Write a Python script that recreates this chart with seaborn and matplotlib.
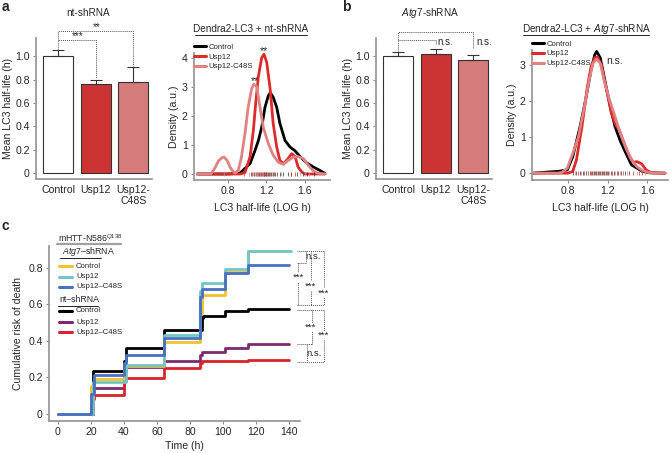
import numpy as np
import pandas as pd
import matplotlib
matplotlib.use('Agg')
import matplotlib.pyplot as plt
from matplotlib.lines import Line2D
import seaborn as sns

# ---------------- data ----------------
groups = ['Control', 'Usp12', 'Usp12-\nC48S']
nt_mean = [1.00, 0.76, 0.78]
nt_err = [0.05, 0.04, 0.125]
atg7_mean = [1.00, 1.02, 0.965]
atg7_err = [0.035, 0.045, 0.045]
bar_colors = ['#FFFFFF', '#CC3333', '#D67B7B']

# density curves (nt-shRNA)
a_ctrl_x = [0.48, 0.80, 0.925, 1.03, 1.08, 1.116, 1.15, 1.185, 1.22, 1.24, 1.27, 1.307,
            1.34, 1.394, 1.446, 1.498, 1.55, 1.62, 1.69, 1.758, 1.81]
a_ctrl_y = [0.0, 0.0, 0.03, 0.36, 0.8, 1.15, 1.6, 2.3, 2.7, 2.8, 2.65, 2.3,
            1.75, 1.15, 0.93, 0.8, 0.6, 0.38, 0.24, 0.12, 0.02]
a_usp_x = [0.48, 0.93, 0.977, 1.03, 1.064, 1.09, 1.116, 1.15, 1.175, 1.203, 1.24, 1.27,
           1.307, 1.34, 1.376, 1.418, 1.463, 1.498, 1.53, 1.568, 1.60, 1.81]
a_usp_y = [0.0, 0.0, 0.05, 0.6, 1.5, 2.5, 3.35, 4.0, 4.13, 3.85, 2.9, 1.75,
           0.93, 0.47, 0.35, 0.5, 0.7, 0.6, 0.24, 0.07, 0.0, 0.0]
a_c48_x = [0.48, 0.62, 0.66, 0.70, 0.74, 0.76, 0.79, 0.83, 0.873, 0.907, 0.94, 0.977,
           1.01, 1.047, 1.07, 1.10, 1.133, 1.168, 1.22, 1.27, 1.324, 1.376, 1.428,
           1.48, 1.532, 1.585, 1.636, 1.69, 1.74, 1.81]
a_c48_y = [0.0, 0.0, 0.18, 0.45, 0.57, 0.58, 0.47, 0.18, 0.03, 0.12, 0.58, 1.4,
           2.3, 2.95, 3.1, 3.0, 2.3, 1.6, 1.05, 0.65, 0.4, 0.33, 0.47,
           0.58, 0.6, 0.53, 0.3, 0.1, 0.02, 0.0]

# density curves (Atg7-shRNA)
b_ctrl_x = [0.45, 0.589, 0.70, 0.793, 0.848, 0.922, 0.978, 1.033, 1.07, 1.089, 1.126,
            1.163, 1.219, 1.274, 1.33, 1.385, 1.441, 1.496, 1.552, 1.626, 1.78]
b_ctrl_y = [0.0, 0.03, 0.05, 0.09, 0.46, 1.3, 2.04, 2.87, 3.29, 3.38, 3.2,
            2.7, 1.94, 1.3, 0.88, 0.55, 0.23, 0.14, 0.05, 0.01, 0.0]
b_usp_x = [0.45, 0.80, 0.848, 0.885, 0.941, 0.996, 1.033, 1.07, 1.10, 1.137, 1.174,
           1.211, 1.237, 1.274, 1.322, 1.367, 1.422, 1.459, 1.496, 1.544, 1.589, 1.644, 1.78]
b_usp_y = [0.0, 0.0, 0.05, 0.37, 1.3, 2.4, 2.96, 3.2, 3.22, 3.0, 2.5,
           2.04, 1.67, 1.39, 1.16, 0.83, 0.46, 0.3, 0.32, 0.26, 0.09, 0.01, 0.0]
b_c48_x = [0.45, 0.70, 0.737, 0.793, 0.848, 0.904, 0.959, 1.015, 1.052, 1.089, 1.126,
           1.163, 1.219, 1.274, 1.33, 1.385, 1.441, 1.496, 1.552, 1.626, 1.78]
b_c48_y = [0.0, 0.0, 0.02, 0.14, 0.55, 1.0, 1.76, 2.6, 3.05, 3.17, 3.05,
           2.6, 2.04, 1.57, 1.1, 0.7, 0.37, 0.18, 0.07, 0.01, 0.0]

# rug positions (individual cell half-lives)
a_rug_ctrl = [1.04, 1.07, 1.10, 1.12, 1.14, 1.16, 1.18, 1.19, 1.20, 1.22, 1.23, 1.25,
              1.27, 1.29, 1.31, 1.34, 1.37, 1.42, 1.46, 1.52, 1.58, 1.62, 1.70]
a_rug_usp = [0.97, 1.05, 1.09, 1.11, 1.13, 1.15, 1.17, 1.18, 1.20, 1.21, 1.24, 1.28, 1.46, 1.50]
a_rug_c48 = [0.76, 1.02, 1.06, 1.08, 1.10, 1.13, 1.16, 1.26, 1.35, 1.55, 1.60, 1.64]
b_rug_ctrl = [0.85, 0.88, 0.92, 0.95, 0.98, 1.00, 1.02, 1.04, 1.06, 1.08, 1.10, 1.12,
              1.14, 1.16, 1.18, 1.20, 1.23, 1.26, 1.30, 1.34, 1.38, 1.42]
b_rug_usp = [0.90, 0.96, 1.03, 1.07, 1.11, 1.15, 1.19, 1.24, 1.29, 1.36, 1.46, 1.52, 1.55]
b_rug_c48 = [0.87, 0.93, 1.00, 1.05, 1.09, 1.13, 1.17, 1.21, 1.27, 1.33, 1.40, 1.50, 1.58]

# cumulative risk of death (step curves)
km_t = {
    'atg7_ctrl': [0, 20, 22, 40, 41, 64, 86, 87, 101, 115, 140],
    'atg7_usp': [0, 21, 41, 64, 86, 87, 101, 115, 141],
    'atg7_c48': [0, 20, 22, 40, 41, 64, 86, 87, 101, 115, 140],
    'nt_ctrl': [0, 21, 40, 41, 64, 87, 88, 101, 115, 140],
    'nt_usp': [0, 21, 40, 41, 64, 86, 87, 101, 115, 140],
    'nt_c48': [0, 21, 22, 40, 41, 64, 86, 87, 115, 140],
}
km_r = {
    'atg7_ctrl': [0, 0.155, 0.19, 0.25, 0.265, 0.395, 0.55, 0.65, 0.775, 0.89, 0.89],
    'atg7_usp': [0, 0.175, 0.27, 0.43, 0.67, 0.715, 0.795, 0.89, 0.89],
    'atg7_c48': [0, 0.11, 0.215, 0.28, 0.32, 0.415, 0.64, 0.685, 0.77, 0.815, 0.815],
    'nt_ctrl': [0, 0.235, 0.29, 0.36, 0.46, 0.525, 0.535, 0.565, 0.575, 0.575],
    'nt_usp': [0, 0.145, 0.23, 0.255, 0.29, 0.32, 0.34, 0.36, 0.383, 0.383],
    'nt_c48': [0, 0.08, 0.105, 0.18, 0.195, 0.25, 0.28, 0.29, 0.297, 0.297],
}
km_colors = {'atg7_ctrl': '#F2C12E', 'atg7_usp': '#72C5C8', 'atg7_c48': '#4A70BE',
             'nt_ctrl': '#000000', 'nt_usp': '#7B2A70', 'nt_c48': '#D8232A'}
km_labels = {'atg7_ctrl': 'Control', 'atg7_usp': 'Usp12', 'atg7_c48': 'Usp12\u2013C48S',
             'nt_ctrl': 'Control', 'nt_usp': 'Usp12', 'nt_c48': 'Usp12\u2013C48S'}

dens_colors = ['#000000', '#DD2A2A', '#E08282']
dens_labels = ['Control', 'Usp12', 'Usp12-C48S']

# ---------------- style ----------------
sns.set_style('ticks')
plt.rcParams['font.family'] = ['Liberation Sans', 'DejaVu Sans']
plt.rcParams['mathtext.fontset'] = 'custom'
plt.rcParams['mathtext.rm'] = 'Liberation Sans'
plt.rcParams['mathtext.it'] = 'Liberation Sans:italic'
plt.rcParams['font.size'] = 7.5

FS = 7.6  # ticks and axis labels
W, H = 672, 453
fig = plt.figure(figsize=(W / 100, H / 100), dpi=100)


def px_axes(l, t, r, b):
    return fig.add_axes([l / W, 1 - b / H, (r - l) / W, (b - t) / H])


def fx(x):
    return x / W


def fy(y):
    return 1 - y / H


def style_axes(ax):
    sns.despine(ax=ax)
    for s in ['left', 'bottom']:
        ax.spines[s].set_color('#9a9a9a')
        ax.spines[s].set_linewidth(1.3)
    ax.tick_params(color='#888888', length=2.5, width=0.8, labelsize=FS, pad=2)


def underline(x0, x1, y, lw=0.6, color='black'):
    fig.add_artist(Line2D([fx(x0), fx(x1)], [fy(y), fy(y)], color=color, lw=lw))


ns_kw = dict(ls=(0, (1, 1)), color='#555555', lw=0.7, clip_on=False)


def bar_panel(ax, means, errs):
    df = pd.DataFrame({'group': groups, 'mean': means})
    sns.barplot(data=df, x='group', y='mean', hue='group', palette=bar_colors,
                saturation=1, edgecolor='#333333', linewidth=0.8, width=0.8, ax=ax,
                legend=False)
    ax.errorbar(x=range(3), y=means, yerr=[np.zeros(3), errs], fmt='none',
                ecolor='#333333', elinewidth=0.8, capsize=4, capthick=0.8)
    ax.set_xlim(-0.6, 2.5)
    ax.set_ylim(-0.05, 1.155)
    ax.set_yticks([0, 0.2, 0.4, 0.6, 0.8, 1.0])
    ax.set_yticklabels(['0', '0.2', '0.4', '0.6', '0.8', '1.0'])
    ax.set_xlabel('')
    ax.set_ylabel('Mean LC3 half-life (h)', fontsize=FS)
    ax.yaxis.set_label_coords(-0.2, 0.5)
    style_axes(ax)
    ax.tick_params(axis='x', length=0, pad=4)


def dens_panel(ax, xs, ys, rugs, ylim, yticks, xlim):
    for x, y, c, lab in zip(xs, ys, dens_colors, dens_labels):
        sns.lineplot(x=x, y=y, ax=ax, color=c, lw=2.0, sort=False, label=lab, legend=False)
    for r, c in zip(rugs, ['#333333', '#DD2A2A', '#E08282']):
        ax.vlines(r, -0.06 * ylim[1] / 4, 0.06 * ylim[1] / 4, color=c, lw=0.5)
    ax.set_xlim(*xlim)
    ax.set_ylim(*ylim)
    ax.set_yticks(yticks)
    ax.set_xticks([0.8, 1.2, 1.6])
    ax.set_ylabel('Density (a.u.)', fontsize=FS)
    ax.set_xlabel('LC3 half-life (LOG h)', fontsize=FS)
    style_axes(ax)
    handles = [Line2D([0], [0], color=c, lw=2.2) for c in dens_colors]
    ax.legend(handles, dens_labels, loc='upper left', bbox_to_anchor=(0.0, 1.075),
              frameon=False, fontsize=5.6, handlelength=1.5, handletextpad=0.4,
              labelspacing=0.3, borderaxespad=0, borderpad=0)


# ---------------- panel a, bars ----------------
ax1 = px_axes(36, 38, 152, 179)
bar_panel(ax1, nt_mean, nt_err)
ax1.plot([0, 0, 1, 1], [1.06, 1.14, 1.14, 0.815], **ns_kw)
ax1.plot([0, 0, 2, 2], [1.14, 1.215, 1.215, 0.915], **ns_kw)
ax1.text(0.5, 1.15, '***', ha='center', va='baseline', fontsize=7)
ax1.text(1.02, 1.225, '**', ha='center', va='baseline', fontsize=7)
fig.text(fx(88), fy(13), 'nt-shRNA', ha='center', va='center', fontsize=7.2)

# ---------------- panel a, density ----------------
ax2 = px_axes(194, 53, 330, 180)
dens_panel(ax2, [a_ctrl_x, a_usp_x, a_c48_x], [a_ctrl_y, a_usp_y, a_c48_y],
           [a_rug_ctrl, a_rug_usp, a_rug_c48], (-0.207, 4.17), [0, 1, 2, 3, 4], (0.446, 1.862))
ax2.yaxis.set_label_coords(-0.11, 0.5)
ax2.xaxis.set_label_coords(0.5, -0.18)
ax2.text(1.175, 4.15, '**', ha='center', va='baseline', fontsize=7.5, clip_on=False)
ax2.text(1.085, 3.1, '**', ha='center', va='baseline', fontsize=7.5)
fig.text(fx(251), fy(29), 'Dendra2-LC3 + nt-shRNA', ha='center', va='center', fontsize=7.2)
underline(195, 307, 34.5)

# ---------------- panel b, bars ----------------
ax3 = px_axes(376, 38, 492, 179)
bar_panel(ax3, atg7_mean, atg7_err)
ax3.yaxis.set_label_coords(-0.2, 0.5)
ax3.plot([0, 0, 2, 2], [1.04, 1.205, 1.205, 1.07], **ns_kw)
ax3.plot([0, 1, 1], [1.14, 1.14, 1.1], **ns_kw)
ax3.text(1.05, 1.12, 'n.s.', ha='left', va='center', fontsize=7)
ax3.text(2.07, 1.12, 'n.s.', ha='left', va='center', fontsize=7)
fig.text(fx(430), fy(13), '$\\it{Atg7}$-shRNA', ha='center', va='center', fontsize=7.2)

# ---------------- panel b, density ----------------
ax4 = px_axes(532, 50, 668, 180)
dens_panel(ax4, [b_ctrl_x, b_usp_x, b_c48_x], [b_ctrl_y, b_usp_y, b_c48_y],
           [b_rug_ctrl, b_rug_usp, b_rug_c48], (-0.19, 3.42), [0, 1, 2, 3], (0.436, 1.81))
ax4.yaxis.set_label_coords(-0.11, 0.5)
ax4.xaxis.set_label_coords(0.5, -0.18)
ax4.text(1.27, 3.12, 'n.s.', ha='center', va='center', fontsize=7.5)
fig.text(fx(586), fy(29), 'Dendra2-LC3 + $\\it{Atg7}$-shRNA', ha='center', va='center',
         fontsize=7.2)
underline(523, 649, 34.5)

# ---------------- panel c ----------------
ax5 = px_axes(49, 246, 300, 421)
for key in ['nt_ctrl', 'nt_usp', 'nt_c48', 'atg7_ctrl', 'atg7_usp', 'atg7_c48']:
    sns.lineplot(x=km_t[key], y=km_r[key], ax=ax5, color=km_colors[key], lw=2.0,
                 drawstyle='steps-post', sort=False)
ax5.set_xlim(-5.45, 146.7)
ax5.set_ylim(-0.038, 0.918)
ax5.set_xticks(range(0, 141, 20))
ax5.set_yticks([0, 0.2, 0.4, 0.6, 0.8])
ax5.set_yticklabels(['0', '0.2', '0.4', '0.6', '0.8'])
ax5.set_xlabel('Time (h)', fontsize=FS)
ax5.set_ylabel('Cumulative risk of death', fontsize=FS)
ax5.yaxis.set_label_coords(-0.105, 0.5)
ax5.xaxis.set_label_coords(0.54, -0.115)
style_axes(ax5)

# significance brackets, Atg7 and nt groups
for xs_, ys_ in [([144.8, 161.2], [0.891, 0.891]), ([144.8, 150.3], [0.825, 0.825]),
                 ([144.8, 161.2], [0.596, 0.596]), ([145.5, 145.5], [0.825, 0.596]),
                 ([150.3, 150.3], [0.891, 0.825]), ([153.3, 153.3], [0.891, 0.596]),
                 ([161.2, 161.2], [0.891, 0.596]),
                 ([144.8, 161.2], [0.568, 0.568]), ([144.8, 153.9], [0.383, 0.383]),
                 ([144.8, 161.2], [0.284, 0.284]), ([153.9, 153.9], [0.568, 0.383]),
                 ([161.2, 161.2], [0.568, 0.284]), ([150.9, 150.9], [0.383, 0.284])]:
    ax5.plot(xs_, ys_, **ns_kw)
for tx, ty, s in [(145.5, 0.745, '***'), (153.3, 0.70, '***'), (160.8, 0.66, '***'),
                  (154.5, 0.858, 'n.s.'), (153.3, 0.472, '***'), (160.8, 0.43, '***'),
                  (155.3, 0.333, 'n.s.')]:
    ax5.text(tx, ty, s, ha='center', va='center', fontsize=6.8, clip_on=False,
             bbox=dict(facecolor='white', edgecolor='none', pad=0.2) if s == '***' else None)

# legend, panel c
fig.text(fx(58), fy(238), 'mHTT-N586$^{Q138}$', ha='left', va='center', fontsize=6.3)
underline(57, 121, 243.5, lw=1.6, color='#a0a0a0')
fig.text(fx(62), fy(252), '$\\it{Atg7}$\u2013shRNA', ha='left', va='center', fontsize=6.3)
underline(60, 101, 257.5)
fig.text(fx(59), fy(300), 'nt\u2013shRNA', ha='left', va='center', fontsize=6.3)
underline(58, 98, 305.5)
for key, yy in zip(['atg7_ctrl', 'atg7_usp', 'atg7_c48', 'nt_ctrl', 'nt_usp', 'nt_c48'],
                   [266, 277, 287, 311, 322, 332]):
    fig.add_artist(Line2D([fx(59), fx(72)], [fy(yy), fy(yy)], color=km_colors[key], lw=2.2))
    fig.text(fx(76), fy(yy), km_labels[key], ha='left', va='center', fontsize=5.6)

# panel letters
fig.text(fx(2), fy(7), 'a', fontsize=10, fontweight='bold', ha='left', va='center')
fig.text(fx(342), fy(7), 'b', fontsize=10, fontweight='bold', ha='left', va='center')
fig.text(fx(2), fy(226), 'c', fontsize=10, fontweight='bold', ha='left', va='center')

fig.savefig('out.png', dpi=100)
